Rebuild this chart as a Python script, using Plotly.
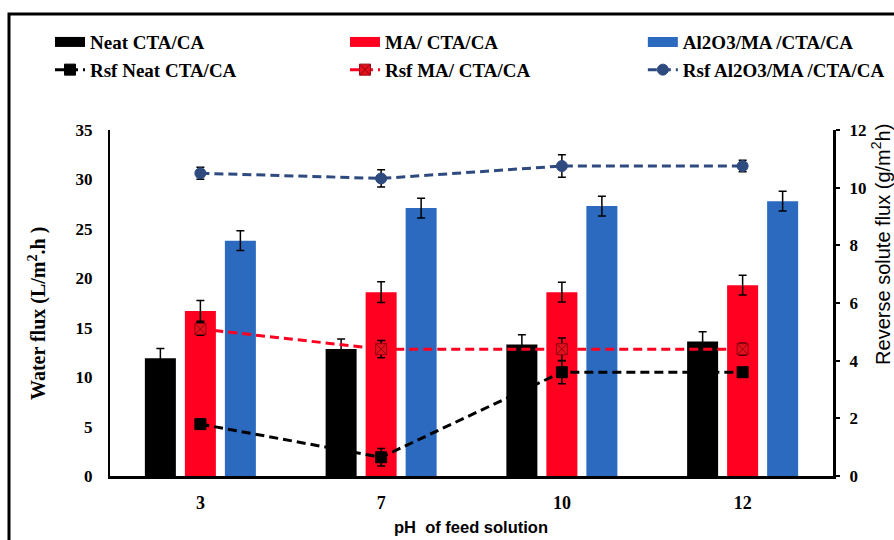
import plotly.graph_objects as go

# pH of the feed solution (categories)
ph_labels = ["3", "7", "10", "12"]

# Water flux (L/m2.h) per membrane
flux_neat = [11.9, 12.85, 13.3, 13.6]
flux_ma = [16.7, 18.6, 18.6, 19.3]
flux_al = [23.8, 27.1, 27.3, 27.8]
flux_err_neat = [1.0, 1.0, 1.0, 1.0]
flux_err_ma = [1.05, 1.05, 1.0, 1.0]
flux_err_al = [1.0, 1.0, 1.0, 1.0]

# Reverse solute flux (g/m2h) per membrane
rsf_neat = [1.8, 0.65, 3.6, 3.6]
rsf_ma = [5.1, 4.4, 4.4, 4.4]
rsf_al = [10.5, 10.32, 10.75, 10.75]
rsf_err_neat = [0.15, 0.3, 0.4, 0.12]
rsf_err_ma = [0.22, 0.3, 0.39, 0.2]
rsf_err_al = [0.21, 0.3, 0.39, 0.2]

names = ["Neat CTA/CA", "MA/ CTA/CA", "Al2O3/MA /CTA/CA"]
rsf_names = ["Rsf Neat CTA/CA", "Rsf MA/ CTA/CA", "Rsf Al2O3/MA /CTA/CA"]

BLACK = "#000000"
RED = "#FF0020"
BLUE = "#2B6ABF"
NAVY = "#2E4A7F"

serif = "Liberation Serif"
sans = "Liberation Sans"

# one legend column per membrane
legend_ids = ["legend", "legend2", "legend3"]

fig = go.Figure()

err_style = dict(type="data", color="black", thickness=1.5, width=4, visible=True)

# bars (legend swatches come from the proxy traces below)
for vals, errs, col, nm in [
    (flux_neat, flux_err_neat, BLACK, names[0]),
    (flux_ma, flux_err_ma, RED, names[1]),
    (flux_al, flux_err_al, BLUE, names[2]),
]:
    fig.add_trace(go.Bar(
        x=ph_labels, y=vals, name=nm, marker=dict(color=col, line=dict(width=0)),
        error_y=dict(array=errs, **err_style), showlegend=False,
    ))

# reverse solute flux series: (values, errors, line colour, marker symbol, marker fill, marker edge)
rsf_series = [
    (rsf_neat, rsf_err_neat, BLACK, "square", BLACK, BLACK),
    (rsf_ma, rsf_err_ma, RED, "square-x", "#E3101E", "#9A0010"),
    (rsf_al, rsf_err_al, NAVY, "circle", NAVY, NAVY),
]

for i, (col, nm) in enumerate([(BLACK, names[0]), (RED, names[1]), (BLUE, names[2])]):
    # wide solid swatch for the bar series
    fig.add_trace(go.Scatter(
        x=[None], y=[None], mode="lines", name=nm, legend=legend_ids[i],
        line=dict(color=col, width=10),
    ))
    vals, errs, lcol, sym, mcol, mline = rsf_series[i]
    fig.add_trace(go.Scatter(
        x=ph_labels, y=vals, name=rsf_names[i], yaxis="y2", mode="lines+markers",
        legend=legend_ids[i],
        line=dict(color=lcol, width=3, dash="9px,5px"),
        marker=dict(symbol=sym, size=11, color=mcol, line=dict(color=mline, width=1)),
        error_y=dict(array=errs, **err_style),
    ))

legend_font = dict(family=serif, size=19, color="black", weight="bold")
legend_common = dict(orientation="v", y=1.309, xanchor="left", yanchor="top",
                     font=legend_font, bgcolor="rgba(0,0,0,0)", traceorder="normal")

fig.update_layout(
    width=894, height=540,
    margin=dict(l=110, r=61, t=130, b=64, autoexpand=False),
    paper_bgcolor="white", plot_bgcolor="white",
    barmode="group", bargap=0.336, bargroupgap=0.225,
    font=dict(family=serif, size=16, color="black"),
    xaxis=dict(
        type="category", showgrid=False, zeroline=False,
        showline=True, linecolor="black", linewidth=3,
        ticks="", tickfont=dict(family=serif, size=18, color="black", weight="bold"),
        ticklabelstandoff=8,
    ),
    yaxis=dict(
        range=[0, 35], dtick=5, showgrid=False, zeroline=False,
        showline=True, linecolor="black", linewidth=2, ticks="",
        tickfont=dict(family=serif, size=17, color="black", weight="bold"),
        ticklabelstandoff=12,
    ),
    yaxis2=dict(
        range=[0, 12], dtick=2, overlaying="y", side="right",
        showgrid=False, zeroline=False,
        showline=True, linecolor="black", linewidth=3,
        ticks="outside", ticklen=4, tickwidth=2, tickcolor="black",
        tickfont=dict(family=serif, size=17, color="black", weight="bold"),
        ticklabelstandoff=6,
    ),
    legend=dict(x=-0.083, **legend_common),
    legend2=dict(x=0.325, **legend_common),
    legend3=dict(x=0.737, **legend_common),
    annotations=[
        dict(text="Water flux (L/m<sup>2</sup>.h )", xref="paper", yref="paper",
             x=-0.101, y=0.471, xanchor="center", yanchor="middle",
             textangle=-90, showarrow=False,
             font=dict(family=serif, size=20, color="black", weight="bold")),
        dict(text="Reverse solute flux (g/m<sup>2</sup>h)", xref="paper", yref="paper",
             x=1.0664, y=0.668, xanchor="center", yanchor="middle",
             textangle=-90, showarrow=False,
             font=dict(family=sans, size=20, color="black")),
        dict(text="pH  of feed solution", xref="paper", yref="paper",
             x=0.4993, y=-0.147, xanchor="center", yanchor="middle", showarrow=False,
             font=dict(family=sans, size=16.5, color="black", weight="bold")),
    ],
    shapes=[
        # outer frame around the figure
        dict(type="rect", xref="paper", yref="paper",
             x0=-0.1397, x1=1.3, y0=-0.4, y1=1.335,
             line=dict(color="black", width=3), fillcolor="rgba(0,0,0,0)", layer="below"),
    ],
)

fig.write_html("out.html")
